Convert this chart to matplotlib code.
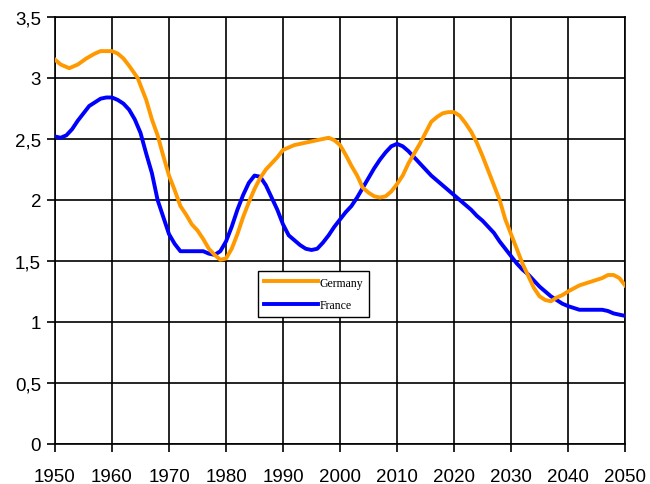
import matplotlib.pyplot as plt
from matplotlib.ticker import FuncFormatter

# fertility rate, Germany vs France
years_de = [1950, 1951, 1952.5, 1954, 1955.5, 1957, 1958, 1960, 1961, 1962, 1963, 1964.5,
            1966, 1967, 1968, 1969, 1970, 1971, 1972, 1973, 1974, 1975, 1976, 1977, 1978,
            1979, 1980, 1981, 1982, 1983, 1984, 1985, 1986, 1987, 1988, 1989, 1990, 1992,
            1994, 1996, 1998, 1999, 2000, 2001, 2002, 2003, 2004, 2005, 2006, 2007, 2008,
            2009, 2010, 2011, 2012, 2013, 2014, 2015, 2016, 2017, 2018, 2019, 2020, 2021,
            2022, 2023, 2024, 2025, 2026, 2027, 2028, 2029, 2030, 2031, 2032, 2033, 2034,
            2035, 2036, 2037, 2038, 2039, 2040, 2042, 2044, 2046, 2047, 2048, 2049, 2050]
germany = [3.15, 3.11, 3.08, 3.11, 3.16, 3.20, 3.22, 3.22, 3.20, 3.16, 3.10, 3.00,
           2.82, 2.66, 2.53, 2.36, 2.20, 2.08, 1.95, 1.88, 1.80, 1.75, 1.68, 1.60, 1.55,
           1.51, 1.52, 1.60, 1.72, 1.86, 1.98, 2.09, 2.18, 2.25, 2.30, 2.35, 2.41, 2.45,
           2.47, 2.49, 2.51, 2.49, 2.45, 2.37, 2.28, 2.20, 2.10, 2.06, 2.03, 2.02, 2.03,
           2.07, 2.13, 2.20, 2.30, 2.38, 2.46, 2.55, 2.64, 2.68, 2.71, 2.72, 2.72, 2.69,
           2.63, 2.56, 2.47, 2.36, 2.24, 2.12, 2.00, 1.84, 1.72, 1.60, 1.48, 1.38, 1.28,
           1.21, 1.18, 1.17, 1.20, 1.22, 1.25, 1.30, 1.33, 1.36, 1.385, 1.385, 1.36, 1.30]

years_fr = list(range(1950, 2041)) + [2042, 2044, 2046, 2047, 2048, 2050]
france = [2.52, 2.51, 2.53, 2.58, 2.65, 2.71, 2.77, 2.80, 2.83, 2.84, 2.84, 2.82, 2.79,
          2.74, 2.66, 2.55, 2.38, 2.22, 2.00, 1.86, 1.72, 1.64, 1.58, 1.58, 1.58, 1.58,
          1.58, 1.56, 1.55, 1.58, 1.66, 1.78, 1.92, 2.04, 2.14, 2.20, 2.19, 2.12, 2.02,
          1.92, 1.80, 1.71, 1.67, 1.63, 1.60, 1.59, 1.60, 1.65, 1.71, 1.78, 1.84, 1.90,
          1.95, 2.02, 2.10, 2.18, 2.26, 2.33, 2.39, 2.44, 2.46, 2.44, 2.40, 2.35, 2.30,
          2.25, 2.20, 2.16, 2.12, 2.08, 2.04, 2.00, 1.96, 1.92, 1.87, 1.83, 1.78, 1.73,
          1.66, 1.60, 1.54, 1.48, 1.43, 1.39, 1.34, 1.29, 1.25, 1.21, 1.18, 1.15, 1.13,
          1.10, 1.10, 1.10, 1.09, 1.07, 1.05]

xticks = list(range(1950, 2051, 10))
yticks = [0, 0.5, 1, 1.5, 2, 2.5, 3, 3.5]

fig = plt.figure(figsize=(6.5, 4.85), dpi=100)
ax = fig.add_axes([0.0846, 0.0825, 0.877, 0.8805])

ax.plot(years_fr, france, color="#0000FF", lw=2.8, label="France", zorder=3)
ax.plot(years_de, germany, color="#FF9900", lw=2.8, label="Germany", zorder=4)

ax.set_xlim(1950, 2050)
ax.set_ylim(0, 3.5)
ax.set_xticks(xticks)
ax.set_yticks(yticks)
ax.yaxis.set_major_formatter(FuncFormatter(lambda v, p: ("%g" % v).replace(".", ",")))
ax.grid(True, color="black", lw=1.2, zorder=1)
ax.set_axisbelow(True)
for s in ax.spines.values():
    s.set_linewidth(1.2)
    s.set_color("black")
ax.tick_params(direction="out", length=6, width=1.2, labelsize=13.5, pad=4)
ax.tick_params(axis="x", pad=11)
for lab in ax.get_xticklabels() + ax.get_yticklabels():
    lab.set_family("Liberation Sans")

h, l = ax.get_legend_handles_labels()
leg = ax.legend(h[::-1], l[::-1], loc="lower left", bbox_to_anchor=(0.356, 0.297),
                borderaxespad=0, fancybox=False, framealpha=1, edgecolor="black",
                handlelength=4.6, handletextpad=0.15, labelspacing=0.9, borderpad=0.5,
                prop={"family": "Liberation Serif", "size": 8.5})
leg.get_frame().set_linewidth(1.0)
leg.set_zorder(5)

plt.savefig("out.png", dpi=100)
